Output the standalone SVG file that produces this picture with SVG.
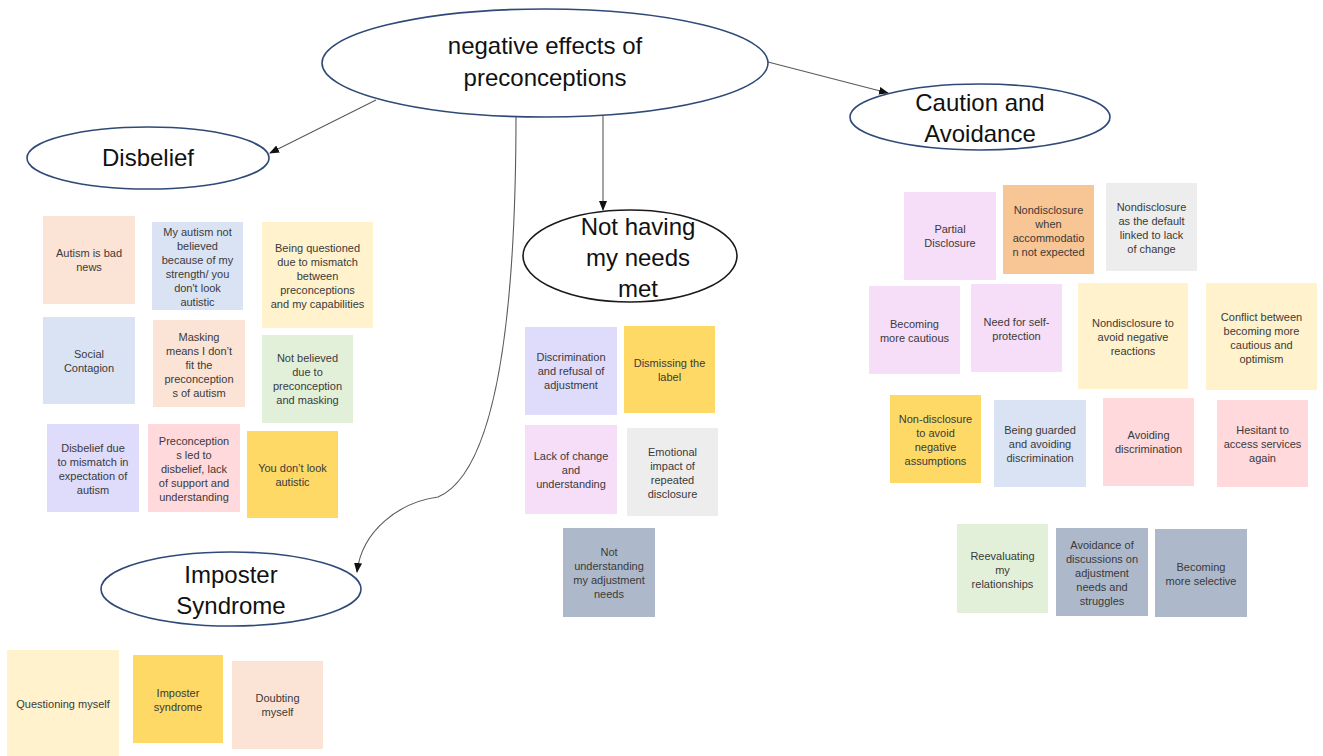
<svg xmlns="http://www.w3.org/2000/svg" width="1323" height="756" viewBox="0 0 1323 756">
<defs>
<marker id="ah" markerUnits="userSpaceOnUse" markerWidth="10" markerHeight="10" viewBox="0 0 10 10" refX="9" refY="5" orient="auto">
<path d="M0,1 L10,5 L0,9 Z" fill="#111"/>
</marker>
<style>
.bg{fill:#ffffff}
.el{fill:#ffffff;stroke:#2F4A78;stroke-width:1.6}
.elk{fill:#ffffff;stroke:#1a1a1a;stroke-width:1.6}
.et{font-family:"Liberation Sans",Arial,sans-serif;font-size:24px;fill:#111;text-anchor:middle}
.st{font-family:"Liberation Sans",Arial,sans-serif;font-size:11px;fill:#3a3a3a;text-anchor:middle}
.cn{fill:none;stroke:#5a5a5a;stroke-width:1.1;marker-end:url(#ah)}
.peach{fill:#FBE4D6}
.blue{fill:#DAE3F3}
.lyel{fill:#FFF2CC}
.green{fill:#E2F0D9}
.lav{fill:#DFDBFA}
.pink{fill:#FFD9DB}
.yel{fill:#FFD966}
.plav{fill:#F6DDF8}
.gray{fill:#EDEDED}
.gblue{fill:#ADB9CA}
.orange{fill:#F8C594}
</style>
</defs>
<rect class="bg" x="0" y="0" width="1323" height="756"/>

<g id="connectors">
<path class="cn" d="M376,100 L270,153"/>
<path class="cn" d="M768,62 L888,93"/>
<path class="cn" d="M603,114 L603,210"/>
<path class="cn" d="M516,114 C516,300 500,470 438,497 C400,502 362,530 357,572"/>
</g>

<g id="n-main">
<ellipse class="el" cx="545" cy="63" rx="223" ry="54"/>
<text class="et" x="545" y="54">negative effects of</text>
<text class="et" x="545" y="86">preconceptions</text>
</g>
<g id="n-disbelief">
<ellipse class="el" cx="148" cy="158" rx="121" ry="31"/>
<text class="et" x="148" y="166">Disbelief</text>
</g>
<g id="n-caution">
<ellipse class="el" cx="980" cy="117" rx="130" ry="33"/>
<text class="et" x="980" y="111">Caution and</text>
<text class="et" x="980" y="142">Avoidance</text>
</g>
<g id="n-needs">
<ellipse class="elk" cx="630" cy="256" rx="107" ry="46"/>
<text class="et" x="638" y="235">Not having</text>
<text class="et" x="638" y="266">my needs</text>
<text class="et" x="638" y="297">met</text>
</g>
<g id="n-imposter">
<ellipse class="el" cx="231" cy="589" rx="130" ry="37"/>
<text class="et" x="231" y="583">Imposter</text>
<text class="et" x="231" y="614">Syndrome</text>
</g>

<!-- Disbelief stickies -->
<g id="s1"><rect class="peach" x="43" y="216" width="92" height="88"/>
<text class="st" x="89" y="257"><tspan x="89">Autism is bad</tspan><tspan x="89" dy="14">news</tspan></text></g>
<g id="s2"><rect class="blue" x="152" y="222" width="91" height="88"/>
<text class="st" x="197.5" y="236"><tspan x="197.5">My autism not</tspan><tspan x="197.5" dy="14">believed</tspan><tspan x="197.5" dy="14">because of my</tspan><tspan x="197.5" dy="14">strength/ you</tspan><tspan x="197.5" dy="14">don't look</tspan><tspan x="197.5" dy="14">autistic</tspan></text></g>
<g id="s3"><rect class="lyel" x="262" y="222" width="111" height="106"/>
<text class="st" x="317.5" y="252"><tspan x="317.5">Being questioned</tspan><tspan x="317.5" dy="14">due to mismatch</tspan><tspan x="317.5" dy="14">between</tspan><tspan x="317.5" dy="14">preconceptions</tspan><tspan x="317.5" dy="14">and my capabilities</tspan></text></g>
<g id="s4"><rect class="blue" x="43" y="317" width="92" height="87"/>
<text class="st" x="89" y="358"><tspan x="89">Social</tspan><tspan x="89" dy="14">Contagion</tspan></text></g>
<g id="s5"><rect class="peach" x="153" y="320" width="92" height="87"/>
<text class="st" x="199" y="341"><tspan x="199">Masking</tspan><tspan x="199" dy="14">means I don’t</tspan><tspan x="199" dy="14">fit the</tspan><tspan x="199" dy="14">preconception</tspan><tspan x="199" dy="14">s of autism</tspan></text></g>
<g id="s6"><rect class="green" x="262" y="335" width="91" height="88"/>
<text class="st" x="307.5" y="362"><tspan x="307.5">Not believed</tspan><tspan x="307.5" dy="14">due to</tspan><tspan x="307.5" dy="14">preconception</tspan><tspan x="307.5" dy="14">and masking</tspan></text></g>
<g id="s7"><rect class="lav" x="47" y="424" width="92" height="88"/>
<text class="st" x="93" y="452"><tspan x="93">Disbelief due</tspan><tspan x="93" dy="14">to mismatch in</tspan><tspan x="93" dy="14">expectation of</tspan><tspan x="93" dy="14">autism</tspan></text></g>
<g id="s8"><rect class="pink" x="148" y="424" width="92" height="88"/>
<text class="st" x="194" y="445"><tspan x="194">Preconception</tspan><tspan x="194" dy="14">s led to</tspan><tspan x="194" dy="14">disbelief, lack</tspan><tspan x="194" dy="14">of support and</tspan><tspan x="194" dy="14">understanding</tspan></text></g>
<g id="s9"><rect class="yel" x="247" y="431" width="91" height="87"/>
<text class="st" x="292.5" y="472"><tspan x="292.5">You don’t look</tspan><tspan x="292.5" dy="14">autistic</tspan></text></g>

<!-- Needs stickies -->
<g id="s10"><rect class="lav" x="525" y="327" width="92" height="88"/>
<text class="st" x="571" y="361"><tspan x="571">Discrimination</tspan><tspan x="571" dy="14">and refusal of</tspan><tspan x="571" dy="14">adjustment</tspan></text></g>
<g id="s11"><rect class="yel" x="624" y="326" width="91" height="87"/>
<text class="st" x="669.5" y="367"><tspan x="669.5">Dismissing the</tspan><tspan x="669.5" dy="14">label</tspan></text></g>
<g id="s12"><rect class="plav" x="525" y="425" width="92" height="89"/>
<text class="st" x="571" y="460"><tspan x="571">Lack of change</tspan><tspan x="571" dy="14">and</tspan><tspan x="571" dy="14">understanding</tspan></text></g>
<g id="s13"><rect class="gray" x="627" y="428" width="91" height="88"/>
<text class="st" x="672.5" y="456"><tspan x="672.5">Emotional</tspan><tspan x="672.5" dy="14">impact of</tspan><tspan x="672.5" dy="14">repeated</tspan><tspan x="672.5" dy="14">disclosure</tspan></text></g>
<g id="s14"><rect class="gblue" x="563" y="528" width="92" height="89"/>
<text class="st" x="609" y="556"><tspan x="609">Not</tspan><tspan x="609" dy="14">understanding</tspan><tspan x="609" dy="14">my adjustment</tspan><tspan x="609" dy="14">needs</tspan></text></g>

<!-- Caution stickies -->
<g id="s15"><rect class="plav" x="904" y="192" width="92" height="88"/>
<text class="st" x="950" y="233"><tspan x="950">Partial</tspan><tspan x="950" dy="14">Disclosure</tspan></text></g>
<g id="s16"><rect class="orange" x="1003" y="185" width="91" height="89"/>
<text class="st" x="1048.5" y="214"><tspan x="1048.5">Nondisclosure</tspan><tspan x="1048.5" dy="14">when</tspan><tspan x="1048.5" dy="14">accommodatio</tspan><tspan x="1048.5" dy="14">n not expected</tspan></text></g>
<g id="s17"><rect class="gray" x="1106" y="183" width="91" height="88"/>
<text class="st" x="1151.5" y="211"><tspan x="1151.5">Nondisclosure</tspan><tspan x="1151.5" dy="14">as the default</tspan><tspan x="1151.5" dy="14">linked to lack</tspan><tspan x="1151.5" dy="14">of change</tspan></text></g>
<g id="s18"><rect class="plav" x="869" y="286" width="91" height="88"/>
<text class="st" x="914.5" y="328"><tspan x="914.5">Becoming</tspan><tspan x="914.5" dy="14">more cautious</tspan></text></g>
<g id="s19"><rect class="plav" x="971" y="284" width="91" height="88"/>
<text class="st" x="1016.5" y="326"><tspan x="1016.5">Need for self-</tspan><tspan x="1016.5" dy="14">protection</tspan></text></g>
<g id="s20"><rect class="lyel" x="1078" y="283" width="110" height="106"/>
<text class="st" x="1133" y="327"><tspan x="1133">Nondisclosure to</tspan><tspan x="1133" dy="14">avoid negative</tspan><tspan x="1133" dy="14">reactions</tspan></text></g>
<g id="s21"><rect class="lyel" x="1206" y="283" width="111" height="107"/>
<text class="st" x="1261.5" y="321"><tspan x="1261.5">Conflict between</tspan><tspan x="1261.5" dy="14">becoming more</tspan><tspan x="1261.5" dy="14">cautious and</tspan><tspan x="1261.5" dy="14">optimism</tspan></text></g>
<g id="s22"><rect class="yel" x="890" y="395" width="91" height="88"/>
<text class="st" x="935.5" y="423"><tspan x="935.5">Non-disclosure</tspan><tspan x="935.5" dy="14">to avoid</tspan><tspan x="935.5" dy="14">negative</tspan><tspan x="935.5" dy="14">assumptions</tspan></text></g>
<g id="s23"><rect class="blue" x="994" y="400" width="92" height="87"/>
<text class="st" x="1040" y="434"><tspan x="1040">Being guarded</tspan><tspan x="1040" dy="14">and avoiding</tspan><tspan x="1040" dy="14">discrimination</tspan></text></g>
<g id="s24"><rect class="pink" x="1103" y="398" width="91" height="88"/>
<text class="st" x="1148.5" y="439"><tspan x="1148.5">Avoiding</tspan><tspan x="1148.5" dy="14">discrimination</tspan></text></g>
<g id="s25"><rect class="pink" x="1217" y="400" width="91" height="87"/>
<text class="st" x="1262.5" y="434"><tspan x="1262.5">Hesitant to</tspan><tspan x="1262.5" dy="14">access services</tspan><tspan x="1262.5" dy="14">again</tspan></text></g>
<g id="s26"><rect class="green" x="957" y="524" width="91" height="89"/>
<text class="st" x="1002.5" y="560"><tspan x="1002.5">Reevaluating</tspan><tspan x="1002.5" dy="14">my</tspan><tspan x="1002.5" dy="14">relationships</tspan></text></g>
<g id="s27"><rect class="gblue" x="1056" y="528" width="92" height="88"/>
<text class="st" x="1102" y="549"><tspan x="1102">Avoidance of</tspan><tspan x="1102" dy="14">discussions on</tspan><tspan x="1102" dy="14">adjustment</tspan><tspan x="1102" dy="14">needs and</tspan><tspan x="1102" dy="14">struggles</tspan></text></g>
<g id="s28"><rect class="gblue" x="1155" y="529" width="92" height="88"/>
<text class="st" x="1201" y="571"><tspan x="1201">Becoming</tspan><tspan x="1201" dy="14">more selective</tspan></text></g>

<!-- Imposter stickies -->
<g id="s29"><rect class="lyel" x="7" y="650" width="112" height="106"/>
<text class="st" x="63" y="708">Questioning myself</text></g>
<g id="s30"><rect class="yel" x="133" y="655" width="90" height="88"/>
<text class="st" x="178" y="697"><tspan x="178">Imposter</tspan><tspan x="178" dy="14">syndrome</tspan></text></g>
<g id="s31"><rect class="peach" x="232" y="661" width="91" height="88"/>
<text class="st" x="277.5" y="702"><tspan x="277.5">Doubting</tspan><tspan x="277.5" dy="14">myself</tspan></text></g>
</svg>
